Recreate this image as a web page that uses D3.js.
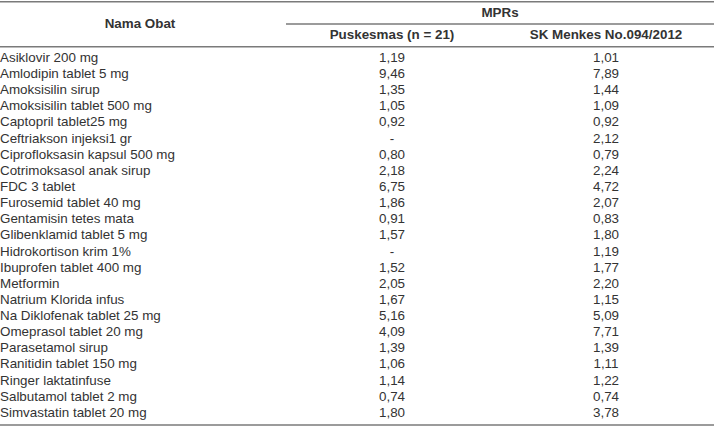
<!DOCTYPE html>
<html><head><meta charset="utf-8">
<script src="https://cdn.jsdelivr.net/npm/d3@7"></script>
<style>html,body{margin:0;padding:0;background:#fff;}svg{display:block;}</style>
</head><body>
<script>
const drugs = ["Asiklovir 200 mg","Amlodipin tablet 5 mg","Amoksisilin sirup","Amoksisilin tablet 500 mg","Captopril tablet25 mg","Ceftriakson injeksi1 gr","Ciprofloksasin kapsul 500 mg","Cotrimoksasol anak sirup","FDC 3 tablet","Furosemid tablet 40 mg","Gentamisin tetes mata","Glibenklamid tablet 5 mg","Hidrokortison krim 1%","Ibuprofen tablet 400 mg","Metformin","Natrium Klorida infus","Na Diklofenak tablet 25 mg","Omeprasol tablet 20 mg","Parasetamol sirup","Ranitidin tablet 150 mg","Ringer laktatinfuse","Salbutamol tablet 2 mg","Simvastatin tablet 20 mg"];
const puskesmas = [1.19,9.46,1.35,1.05,0.92,null,0.80,2.18,6.75,1.86,0.91,1.57,null,1.52,2.05,1.67,5.16,4.09,1.39,1.06,1.14,0.74,1.80];
const skMenkes = [1.01,7.89,1.44,1.09,0.92,2.12,0.79,2.24,4.72,2.07,0.83,1.80,1.19,1.77,2.20,1.15,5.09,7.71,1.39,1.11,1.22,0.74,3.78];
const headerMain = "Nama Obat";
const headerGroup = "MPRs";
const columns = ["Puskesmas (n = 21)","SK Menkes No.094/2012"];

const W = 714, H = 428, FS = 13.4;
const svg = d3.select("body").append("svg").attr("width", W).attr("height", H)
  .style("font-family", "'Liberation Sans', Arial, sans-serif").style("font-size", FS + "px");
const txt = "#333", lineC = "#7a7a7a";

const step = 16.14;
const y = d3.scaleBand().domain(d3.range(drugs.length)).range([57 - step / 2, 57 - step / 2 + step * drugs.length]);
const x = d3.scalePoint().domain(columns).range([392, 606]);
const fmt = v => v == null ? "-" : d3.format(".2f")(v).replace(".", ",");

function hline(x1, x2, yy) {
  svg.append("line").attr("x1", x1).attr("x2", x2).attr("y1", yy).attr("y2", yy)
    .attr("stroke", lineC).attr("stroke-width", 1.6);
}
hline(0, W, 1.8);
hline(286, W, 24);
hline(0, W, 46.7);
hline(0, W, 425);

svg.append("text").attr("x", 140).attr("y", 27.5).attr("text-anchor", "middle")
  .attr("font-weight", "bold").attr("fill", txt).text(headerMain);
svg.append("text").attr("x", 500).attr("y", 16.7).attr("text-anchor", "middle")
  .attr("font-weight", "bold").attr("fill", txt).text(headerGroup);
svg.selectAll("text.colh").data(columns).join("text").attr("class", "colh")
  .attr("x", d => x(d)).attr("y", 39.3).attr("text-anchor", "middle")
  .attr("font-weight", "bold").attr("fill", txt).text(d => d);

const base = i => y(i) + y.bandwidth() / 2 + FS * 0.36;
svg.selectAll("text.name").data(drugs).join("text").attr("class", "name")
  .attr("x", 0).attr("y", (d, i) => base(i)).attr("fill", txt).text(d => d);
svg.selectAll("text.v1").data(puskesmas).join("text").attr("class", "v1")
  .attr("x", x(columns[0])).attr("y", (d, i) => base(i)).attr("text-anchor", "middle")
  .attr("fill", txt).text(fmt);
svg.selectAll("text.v2").data(skMenkes).join("text").attr("class", "v2")
  .attr("x", x(columns[1])).attr("y", (d, i) => base(i)).attr("text-anchor", "middle")
  .attr("fill", txt).text(fmt);
</script>
</body></html>
